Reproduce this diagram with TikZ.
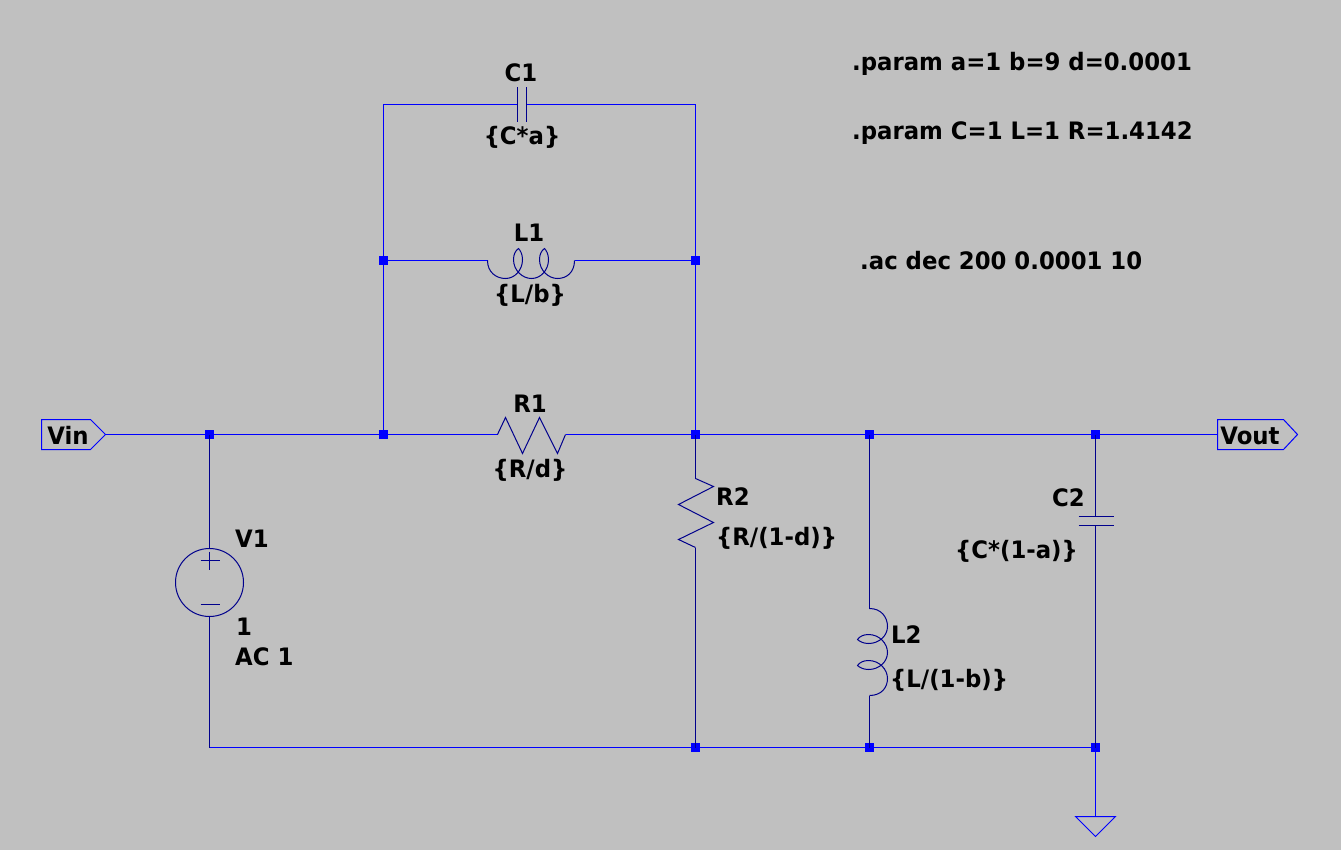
\documentclass[tikz,border=0pt]{standalone}
\usepackage{fontspec}
\setmainfont[FakeStretch=0.95]{DejaVu Sans}
\definecolor{Sheet}{rgb}{0.753,0.753,0.753}
\definecolor{WireBlue}{rgb}{0.0,0.0,1.0}
\definecolor{PartNavy}{rgb}{0.0,0.0,0.55}
\tikzset{
    wire/.style={line width=1pt, WireBlue},
    part/.style={line width=1pt, PartNavy},
    junc/.style={rectangle, fill=WireBlue, inner sep=0pt, minimum size=9pt},
    lbl/.style={font=\fontsize{24}{26}\selectfont\bfseries, inner sep=0pt, text=black},
}
\begin{document}
\begin{tikzpicture}[x=1pt,y=-1pt]
    \useasboundingbox [fill=Sheet] (0,0) rectangle (1341,850);
    \begin{scope}[shift={(0.5,0.5)}]
    % junctions
    \node [junc] (inA) at (209,434) {};
    \node [junc] (inB) at (383,434) {};
    \node [junc] (midA) at (695,434) {};
    \node [junc] (midB) at (869,434) {};
    \node [junc] (midC) at (1095,434) {};
    \node [junc] (coilL) at (383,260) {};
    \node [junc] (coilR) at (695,260) {};
    \node [junc] (botA) at (695,747) {};
    \node [junc] (botB) at (869,747) {};
    \node [junc] (botC) at (1095,747) {};
    % free wire ends
    \coordinate (vinTip) at (105,434);
    \coordinate (voutEnd) at (1217,434);
    \coordinate (topL) at (383,104);
    \coordinate (topR) at (695,104);
    \coordinate (botL) at (209,747);
    \coordinate (gndTop) at (1095,816);
    \coordinate (cOneL) at (517,104);   \coordinate (cOneR) at (526,104);
    \coordinate (lOneL) at (487,260);   \coordinate (lOneR) at (574,260);
    \coordinate (rOneL) at (497,434);   \coordinate (rOneR) at (565,434);
    \coordinate (rTwoT) at (695,478);   \coordinate (rTwoB) at (695,547);
    \coordinate (vOneT) at (209,548);   \coordinate (vOneB) at (209,616);
    \coordinate (lTwoT) at (869,608);   \coordinate (lTwoB) at (869,695);
    \coordinate (cTwoT) at (1095,516);  \coordinate (cTwoB) at (1095,525);
    % wires
    \draw [wire] (vinTip) -- (inA.center) -- (inB.center) -- (rOneL);
    \draw [wire] (rOneR) -- (midA.center) -- (midB.center) -- (midC.center) -- (voutEnd);
    \draw [wire] (inB.center) -- (coilL.center) -- (topL) -- (cOneL);
    \draw [wire] (cOneR) -- (topR) -- (coilR.center) -- (midA.center);
    \draw [wire] (coilL.center) -- (lOneL);
    \draw [wire] (lOneR) -- (coilR.center);
    \draw [part] (inA.center) -- (vOneT);
    \draw [part] (vOneB) -- (botL);
    \draw [wire] (botL) -- (botA.center) -- (botB.center) -- (botC.center) -- (gndTop);
    \draw [part] (midA.center) -- (rTwoT);
    \draw [part] (rTwoB) -- (botA.center);
    \draw [part] (midB.center) -- (lTwoT);
    \draw [part] (lTwoB) -- (botB.center);
    \draw [part] (midC.center) -- (cTwoT);
    \draw [part] (cTwoB) -- (botC.center);
    % flags and ground
    \draw [wire] (vinTip) -- (90,419) -- (41,419) -- (41,449) -- (90,449) -- cycle;
    \draw [wire] (voutEnd) -- (1217,419) -- (1283,419) -- (1297,434) -- (1283,449) -- (1217,449) -- cycle;
    \draw [wire] (1075,816) -- (1115,816) -- (1095,836) -- cycle;
    % capacitors
    \draw [part] (517,87) -- (517,122);  \draw [part] (526,87) -- (526,122);
    \draw [part] (1078,516) -- (1113,516);  \draw [part] (1078,525) -- (1113,525);
    % resistors
    \draw [part] (rOneL) -- (505,417) -- (522,453) -- (539,417) -- (557,453) -- (rOneR);
    \draw [part] (rTwoT) -- (713,486) -- (678,504) -- (713,522) -- (678,539) -- (rTwoB);
    % inductors
    \draw [part] (lOneL) .. controls (487,272) and (496,278) .. (505,278)
        .. controls (514,278) and (522,270) .. (522,259) .. controls (522,254) and (520,250) .. (518,248)
        .. controls (515,250) and (513,254) .. (513,259) .. controls (513,270) and (522,278) .. (531,278)
        .. controls (540,278) and (548,270) .. (548,259) .. controls (548,254) and (546,250) .. (544,248)
        .. controls (541,250) and (539,254) .. (539,259) .. controls (539,270) and (548,278) .. (557,278)
        .. controls (566,278) and (574,272) .. (lOneR);
    \draw [part] (lTwoT) .. controls (881,608) and (887,617) .. (887,626)
        .. controls (887,635) and (879,643) .. (868,643) .. controls (863,643) and (859,641) .. (857,639)
        .. controls (859,636) and (863,634) .. (868,634) .. controls (879,634) and (887,643) .. (887,652)
        .. controls (887,661) and (879,669) .. (868,669) .. controls (863,669) and (859,667) .. (857,665)
        .. controls (859,662) and (863,660) .. (868,660) .. controls (879,660) and (887,669) .. (887,678)
        .. controls (887,687) and (881,695) .. (lTwoB);
    % source
    \node [circle, part, draw, inner sep=0pt, minimum size=68pt] (vOne) at (209,582) {};
    \draw [part] (200,560) -- (219,560);  \draw [part] (209,551) -- (209,569);
    \draw [part] (200,604) -- (219,604);
    \end{scope}
    % labels
    \node [lbl, anchor=base] (vinLbl) at (68,444) {Vin};
    \node [lbl, anchor=base] (voutLbl) at (1250,444) {Vout};
    \node [lbl, anchor=base] (cOneName) at (521,82) {C1};
    \node [lbl, anchor=base] (cOneVal) at (522,145) {\{C*a\}};
    \node [lbl, anchor=base] (lOneName) at (529,242) {L1};
    \node [lbl, anchor=base] (lOneVal) at (530,302) {\{L/b\}};
    \node [lbl, anchor=base] (rOneName) at (530,412) {R1};
    \node [lbl, anchor=base] (rOneVal) at (530,477) {\{R/d\}};
    \node [lbl, anchor=base west] (rTwoName) at (716,505) {R2};
    \node [lbl, anchor=base west] (rTwoVal) at (716,545) {\{R/(1-d)\}};
    \node [lbl, anchor=base west] (vOneName) at (235,547) {V1};
    \node [lbl, anchor=base west] (vOneDc) at (236,635) {1};
    \node [lbl, anchor=base west] (vOneAc) at (235,665) {AC 1};
    \node [lbl, anchor=base west] (lTwoName) at (891,643) {L2};
    \node [lbl, anchor=base west] (lTwoVal) at (890,687) {\{L/(1-b)\}};
    \node [lbl, anchor=base west] (cTwoName) at (1052,506) {C2};
    \node [lbl, anchor=base west] (cTwoVal) at (955,558) {\{C*(1-a)\}};
    \node [lbl, anchor=base west] (paramA) at (852,71) {.param a=1 b=9 d=0.0001};
    \node [lbl, anchor=base west] (paramB) at (852,140) {.param C=1 L=1 R=1.4142};
    \node [lbl, anchor=base west] (acLine) at (860,270) {.ac dec 200 0.0001 10};
\end{tikzpicture}
\end{document}
